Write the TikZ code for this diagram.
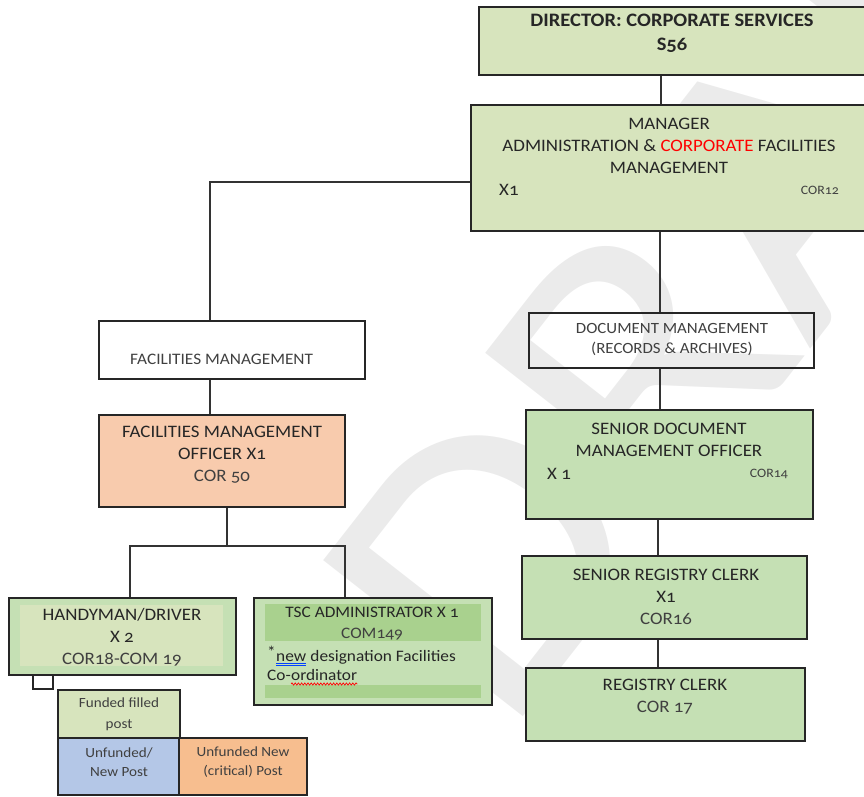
\documentclass[tikz,border=0pt]{standalone}
\usepackage{fontspec}
\setmainfont{Carlito}[Numbers=OldStyle,FakeStretch=1.08]
\usetikzlibrary{fit,decorations.pathmorphing}

\definecolor{olive}{HTML}{D7E4BD}
\definecolor{leaf}{HTML}{C5E0B4}
\definecolor{band}{HTML}{A9D18E}
\definecolor{peach}{HTML}{F8CBAD}
\definecolor{orng}{HTML}{F7BE8F}
\definecolor{sky}{HTML}{B4C7E7}
\definecolor{ink}{HTML}{262626}
\definecolor{inkl}{HTML}{404040}
\definecolor{wmark}{HTML}{EBEBEB}

\begin{document}
\begin{tikzpicture}[x=1pt,y=-1pt,
  box/.style={draw=black!85,line width=1.4pt,inner sep=0pt},
  lbl/.style={inner sep=0pt,text=ink,align=center,font=\fontsize{17.5}{22}\selectfont},
  word/.style={inner sep=0pt,text=ink,font=\fontsize{17.5}{22}\selectfont},
  small/.style={inner sep=0pt,text=inkl,font=\fontsize{12.8}{15}\selectfont},
  note/.style={inner sep=0pt,text=ink,font=\fontsize{16}{20}\selectfont},
  wire/.style={draw=black!80,line width=1.3pt},
]
\useasboundingbox (0,0) rectangle (864,796);
\clip (0,0) rectangle (864,796);

% faint watermark behind everything
\node[rotate=52,anchor=base west,inner sep=0pt,text=wmark,
      font=\fontsize{395}{395}\selectfont] (wm) at (505,740) {DRAFT};

% ---------- top of the chart ----------
\node[box,fill=olive,fit={(479,7)(872,75)}] (dir) {};
\node[lbl,font=\fontsize{19}{24}\selectfont\bfseries] (dirt) at (672,33)
  {DIRECTOR: CORPORATE SERVICES\\S56};

\node[box,fill=olive,fit={(471,105)(872,231)}] (mgr) {};
\node[lbl] (mgrt) at (669,146)
  {MANAGER\\ADMINISTRATION \& \textcolor{red}{CORPORATE} FACILITIES\\MANAGEMENT};
\node[word,anchor=west] (mgrx) at (499,190) {X1};
\node[small,anchor=east] (mgrc) at (839,190) {COR12};

% ---------- facilities branch ----------
\node[box,fit={(99,321)(365,379)}] (fm) {};
\node[word,text=inkl,font=\fontsize{16}{18}\selectfont,anchor=west] (fmt) at (130,359)
  {FACILITIES MANAGEMENT};

\node[box,fill=peach,fit={(99,415)(345,507)}] (fmo) {};
\node[lbl] (fmot) at (222,455)
  {FACILITIES MANAGEMENT\\OFFICER X1\\\textcolor{inkl}{COR 50}};

\node[box,fill=leaf,fit={(9,598)(236,675)}] (hm) {};
\fill[olive] (20,605) rectangle (223,666);
\node[lbl] (hmt) at (122,637)
  {HANDYMAN/DRIVER\\X 2\\\textcolor{inkl}{COR18-COM 19}};
\node[box,line width=1.2pt,fit={(33,675)(53,689)}] (tab) {};

\node[box,fill=leaf,fit={(254,598)(492,705)}] (tsc) {};
\fill[band] (265,604) rectangle (481,641);
\fill[band] (265,685) rectangle (481,698);
\node[lbl,font=\fontsize{16}{21}\selectfont] (tsct) at (372,623.5)
  {TSC ADMINISTRATOR X 1\\\textcolor{inkl}{COM149}};
\node[note,anchor=base west] (ast) at (267,657) {*};
\node[note,anchor=base west] (nw) at ([yshift=-4pt]ast.base east) {new};
\node[note,anchor=base west] (rest) at (nw.base east) {\ designation Facilities};
\draw[blue!75!cyan,line width=0.8pt] ([yshift=-2.3pt]nw.base west) -- ([yshift=-2.3pt]nw.base east);
\draw[blue!75!cyan,line width=0.8pt] ([yshift=-4.3pt]nw.base west) -- ([yshift=-4.3pt]nw.base east);
\node[note,anchor=base west] (co) at (267,680) {Co-};
\node[note,anchor=base west] (ord) at (co.base east) {ordinator};
\draw[red,line width=0.7pt,decorate,decoration={snake,amplitude=1.1pt,segment length=3.2pt}]
  ([yshift=-4pt]ord.base west) -- ([yshift=-4pt]ord.base east);

% ---------- legend ----------
\node[box,fill=olive,fit={(58,690)(180,738)}] (lgf) {};
\node[lbl,font=\fontsize{14}{21}\selectfont,text=inkl] at (119,714.5) {Funded filled\\post};
\node[box,fill=sky,fit={(58,738)(179,795)}] (lgu) {};
\node[lbl,font=\fontsize{14}{19}\selectfont,text=inkl] at (119,762.5) {Unfunded/\\New Post};
\node[box,fill=orng,fit={(179,738)(307,795)}] (lgc) {};
\node[lbl,font=\fontsize{14}{19}\selectfont,text=inkl] at (243,762.5) {Unfunded New\\(critical) Post};

% ---------- document branch ----------
\node[box,fit={(529,313)(814,368)}] (doc) {};
\node[lbl,font=\fontsize{15.6}{20}\selectfont,text=inkl] (doct) at (672,340)
  {DOCUMENT MANAGEMENT\\(RECORDS \& ARCHIVES)};

\node[box,fill=leaf,fit={(526,410)(813,519)}] (sdm) {};
\node[lbl] (sdmt) at (669,439.5) {SENIOR DOCUMENT\\MANAGEMENT OFFICER};
\node[word,anchor=west] (sdmx) at (547,474) {X 1};
\node[small,anchor=east] (sdmc) at (788,474) {COR14};

\node[box,fill=leaf,fit={(522,556)(807,639)}] (src) {};
\node[lbl] (srct) at (666,597) {SENIOR REGISTRY CLERK\\X1\\\textcolor{inkl}{COR16}};

\node[box,fill=leaf,fit={(526,668)(805,741)}] (rc) {};
\node[lbl] (rct) at (665,696.5) {REGISTRY CLERK\\\textcolor{inkl}{COR 17}};

% ---------- connectors ----------
\coordinate (ja) at (661,0);
\coordinate (jb) at (210,182);
\coordinate (jc) at (227,546);
\coordinate (jd) at (130,546);
\coordinate (je) at (345,546);
\coordinate (jf) at (660,0);
\coordinate (jg) at (658,0);

\draw[wire] (dir.south -| ja) -- (mgr.north -| ja);
\draw[wire] (mgr.west |- jb) -- (jb) -- (fm.north -| jb);
\draw[wire] (fm.south -| jb) -- (fmo.north -| jb);
\draw[wire] (fmo.south -| jc) -- (jc);
\draw[wire] (hm.north -| jd) -- (jd) -- (je) -- (tsc.north -| je);
\draw[wire] (mgr.south -| jf) -- (doc.north -| jf);
\draw[wire] (doc.south -| jf) -- (sdm.north -| jf);
\draw[wire] (sdm.south -| jg) -- (src.north -| jg);
\draw[wire] (src.south -| jg) -- (rc.north -| jg);
\end{tikzpicture}
\end{document}
